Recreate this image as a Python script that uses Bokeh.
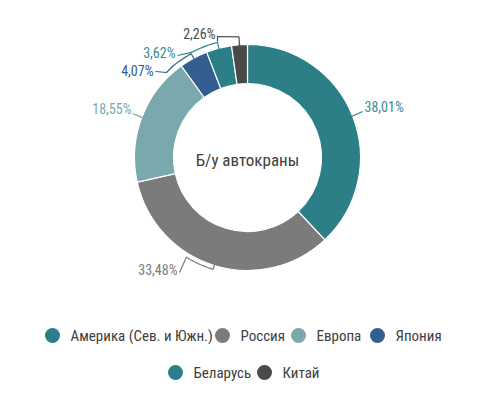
import math
from bokeh.plotting import figure
from bokeh.models import Range1d, ColumnDataSource
from bokeh.core.properties import value
from bokeh.embed import file_html
from bokeh.resources import INLINE

# ---------------- data ----------------
categories = ["Америка (Сев. и Южн.)", "Россия", "Европа", "Япония", "Беларусь", "Китай"]
shares = [38.01, 33.48, 18.55, 4.07, 3.62, 2.26]
pct_labels = ["38,01%", "33,48%", "18,55%", "4,07%", "3,62%", "2,26%"]
colors = ["#2c7f87", "#7b7b7b", "#79a8ad", "#335e8f", "#2c7f87", "#4a4a4a"]
label_colors = ["#3a8b93", "#7b7b7b", "#79a8ad", "#335e8f", "#3a8b93", "#4a4a4a"]
center_title = "Б/у автокраны"

# ---------------- layout (screen px) ----------------
FONT = "'Roboto Condensed', 'Open Sans Condensed', 'Noto Sans Condensed', sans-serif"
W, H = 478, 382
CX, CY = 247, 157
R_OUT, R_IN = 113, 74


def sy(y):
    return H - y


def pt(r, deg):
    a = math.radians(deg)
    return CX + r * math.sin(a), CY - r * math.cos(a)


# leader layout per slice: radial stub, arc end angle, tail points, label anchor
leaders = [
    dict(stub=0, arc_to=None, tail=[(362, 111)], lab=(364, 106, "left")),
    dict(stub=4, arc_to=211.5, tail=[(179, 272)], lab=(177, 269, "right")),
    dict(stub=0, arc_to=None, tail=[(132, 113)], lab=(131, 108, "right")),
    dict(stub=5, arc_to=321, tail=[(166, 72), (155, 71)], lab=(153, 70, "right")),
    dict(stub=6, arc_to=332, tail=[(177, 55)], lab=(175, 52, "right")),
    dict(stub=8, arc_to=None, tail=[(217, 36), (217, 41)], lab=(215, 33, "right")),
]

legend_rows = [
    dict(y=335, items=[(0, 52), (1, 222), (2, 298), (3, 377)]),
    dict(y=372, items=[(4, 175), (5, 264)]),
]

p = figure(width=W, height=H, output_backend="svg", toolbar_location=None,
           x_range=Range1d(0, W), y_range=Range1d(0, H),
           min_border=0)
p.axis.visible = False
p.grid.visible = False
p.outline_line_color = None
p.background_fill_color = "white"
p.border_fill_color = "white"

total = sum(shares)
starts, ends, mids = [], [], []
cum = 0.0
for s in shares:
    starts.append(cum / total)
    cum += s
    ends.append(cum / total)
    mids.append((starts[-1] + ends[-1]) / 2 * 360.0)

src = ColumnDataSource(dict(
    start=[math.pi / 2 - 2 * math.pi * e for e in ends],
    end=[math.pi / 2 - 2 * math.pi * s for s in starts],
    color=colors,
))
p.annular_wedge(x=CX, y=sy(CY), inner_radius=R_IN, outer_radius=R_OUT,
                start_angle="start", end_angle="end", direction="anticlock",
                fill_color="color", line_color="white", line_width=1.2,
                source=src)

# center title
p.text(x=[CX], y=[sy(159)], text=[center_title], text_align="center",
       text_baseline="middle", text_font=value(FONT), text_font_size="17px",
       text_color="#404040")

# leader lines and labels
for i, spec in enumerate(leaders):
    m = mids[i]
    pts = [pt(R_OUT - 1, m)]
    r2 = R_OUT + spec["stub"]
    pts.append(pt(r2, m))
    if spec["arc_to"] is not None:
        a0, a1 = m, spec["arc_to"]
        n = 20
        for k in range(1, n + 1):
            pts.append(pt(r2, a0 + (a1 - a0) * k / n))
    pts.extend(spec["tail"])
    p.line(x=[q[0] for q in pts], y=[sy(q[1]) for q in pts],
           line_color=colors[i], line_width=1.2)
    lx, ly, al = spec["lab"]
    p.text(x=[lx], y=[sy(ly)], text=[pct_labels[i]], text_align=al,
           text_baseline="middle", text_font=value(FONT), text_font_size="14px",
           text_color=label_colors[i])

# legend
for row in legend_rows:
    for idx, x in row["items"]:
        p.scatter(x=[x], y=[sy(row["y"])], size=15, marker="circle",
                  fill_color=colors[idx], line_color=None)
        p.text(x=[x + 18], y=[sy(row["y"])], text=[categories[idx]],
               text_align="left", text_baseline="middle",
               text_font=value(FONT), text_font_size="15px",
               text_color="#404040")

open("out.html", "w").write(file_html(p, INLINE))
